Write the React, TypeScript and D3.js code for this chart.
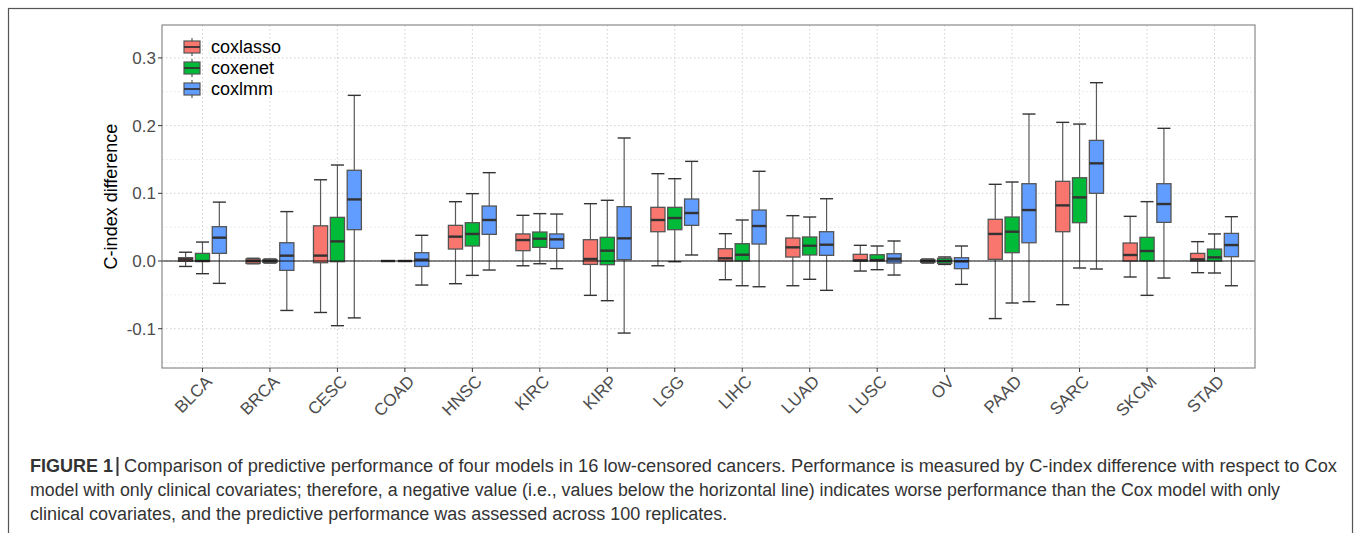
import React from "react";
import * as d3 from "d3";

// cancers on the x axis
const categories = ["BLCA", "BRCA", "CESC", "COAD", "HNSC", "KIRC", "KIRP", "LGG",
  "LIHC", "LUAD", "LUSC", "OV", "PAAD", "SARC", "SKCM", "STAD"];

const models = ["coxlasso", "coxenet", "coxlmm"];
const modelColors = ["#F8766D", "#00BA38", "#619CFF"];

const yTicks = [-0.1, 0.0, 0.1, 0.2, 0.3];
const yMinorTicks = [-0.15, -0.05, 0.05, 0.15, 0.25];

// [lower whisker, q1, median, q3, upper whisker] per cancer
const coxlassoStats = [
  [-0.008, -0.0005, 0.0025, 0.005, 0.013],
  [-0.004, -0.0035, 0, 0.003, 0.004],
  [-0.076, -0.0025, 0.008, 0.052, 0.12],
  [0, 0, 0, 0, 0],
  [-0.0335, 0.0177, 0.036, 0.0527, 0.0876],
  [-0.007, 0.0153, 0.031, 0.04, 0.0675],
  [-0.0507, -0.005, 0.003, 0.0315, 0.0847],
  [-0.007, 0.0433, 0.0606, 0.0793, 0.129],
  [-0.0276, 0, 0.004, 0.0182, 0.0404],
  [-0.0365, 0.0059, 0.0202, 0.034, 0.067],
  [-0.0148, 0, 0.001, 0.0099, 0.0232],
  [-0.003, -0.002, 0, 0.002, 0.003],
  [-0.085, 0.0025, 0.04, 0.0616, 0.1133],
  [-0.0645, 0.0433, 0.0822, 0.1177, 0.2048],
  [-0.0236, 0, 0.0089, 0.0266, 0.066],
  [-0.0172, 0, 0.0025, 0.0113, 0.0286],
];

const coxenetStats = [
  [-0.0187, -0.0005, 0, 0.0113, 0.028],
  [-0.003, -0.002, 0, 0.002, 0.003],
  [-0.0955, -0.001, 0.029, 0.0645, 0.1418],
  [0, 0, 0, 0, 0],
  [-0.0212, 0.0222, 0.04, 0.0566, 0.0995],
  [-0.004, 0.0202, 0.033, 0.0428, 0.07],
  [-0.0586, -0.0054, 0.0153, 0.035, 0.0897],
  [-0.001, 0.0463, 0.0635, 0.0793, 0.1216],
  [-0.0365, 0, 0.0093, 0.0256, 0.0606],
  [-0.027, 0.0089, 0.0226, 0.0355, 0.065],
  [-0.0128, 0, 0.0015, 0.0093, 0.0222],
  [-0.005, -0.0035, 0, 0.004, 0.006],
  [-0.062, 0.0123, 0.0433, 0.065, 0.1167],
  [-0.0103, 0.0566, 0.094, 0.123, 0.2023],
  [-0.0507, 0, 0.0148, 0.035, 0.0877],
  [-0.0177, 0, 0.0054, 0.0177, 0.04],
];

const coxlmmStats = [
  [-0.033, 0.0113, 0.0345, 0.0507, 0.087],
  [-0.073, -0.0138, 0.0079, 0.027, 0.073],
  [-0.084, 0.0463, 0.091, 0.134, 0.2447],
  [-0.0355, -0.008, 0.002, 0.0123, 0.038],
  [-0.0133, 0.0394, 0.0606, 0.0812, 0.1305],
  [-0.0113, 0.0187, 0.032, 0.04, 0.0694],
  [-0.1064, 0.002, 0.0335, 0.0803, 0.1817],
  [0.0089, 0.0527, 0.0709, 0.0916, 0.1472],
  [-0.038, 0.0251, 0.0517, 0.0753, 0.1325],
  [-0.0433, 0.0084, 0.0241, 0.0433, 0.092],
  [-0.0207, -0.003, 0.0034, 0.0108, 0.0296],
  [-0.0345, -0.0113, -0.0005, 0.0049, 0.0222],
  [-0.06, 0.027, 0.0753, 0.1142, 0.2171],
  [-0.0118, 0.1, 0.1443, 0.1782, 0.2634],
  [-0.0251, 0.0571, 0.0842, 0.1142, 0.196],
  [-0.0365, 0.0064, 0.0236, 0.0408, 0.0655],
];

const allStats = [coxlassoStats, coxenetStats, coxlmmStats];

const captionLines = [
  "Comparison of predictive performance of four models in 16 low-censored cancers. Performance is measured by C-index difference with respect to Cox",
  "model with only clinical covariates; therefore, a negative value (i.e., values below the horizontal line) indicates worse performance than the Cox model with only",
  "clinical covariates, and the predictive performance was assessed across 100 replicates.",
];

const W = 1358;
const H = 533;
const panel = { left: 162, right: 1255, top: 25, bottom: 368 };
const font = "Liberation Sans, Arial, Helvetica, sans-serif";

export default function App() {
  const x = d3.scalePoint<string>()
    .domain(categories)
    .range([panel.left, panel.right])
    .padding(0.6);
  const step = x.step();

  const y = d3.scaleLinear()
    .domain([-0.158, 0.3486])
    .range([panel.bottom, panel.top]);

  const boxW = step * 0.21;
  const dodge = step * 0.25;
  const capW = boxW * 0.92;

  return (
    <svg width={W} height={H} style={{ position: "absolute", left: 0, top: 0 }}
      fontFamily={font}>
      <rect x={0} y={0} width={W} height={H} fill="white" />
      {/* outer figure frame */}
      <rect x={8.5} y={8.5} width={1344} height={540} fill="none" stroke="#555" strokeWidth={1.2} />

      {/* grid */}
      {yMinorTicks.map((t) => (
        <line key={"mn" + t} x1={panel.left} x2={panel.right} y1={y(t)} y2={y(t)}
          stroke="#dedede" strokeWidth={0.8} strokeDasharray="1.5,2.5" />
      ))}
      {yTicks.map((t) => (
        <line key={"mj" + t} x1={panel.left} x2={panel.right} y1={y(t)} y2={y(t)}
          stroke="#cfcfcf" strokeWidth={1} strokeDasharray="1.5,2.5" />
      ))}
      {categories.map((c) => (
        <line key={"vg" + c} x1={x(c)} x2={x(c)} y1={panel.top} y2={panel.bottom}
          stroke="#cfcfcf" strokeWidth={1} strokeDasharray="1.5,2.5" />
      ))}

      {/* boxplots */}
      {allStats.map((stats, m) => (
        <g key={models[m]}>
          {stats.map((s, i) => {
            const cx = (x(categories[i]) as number) + (m - 1) * dodge;
            const [lo, q1, med, q3, hi] = s;
            return (
              <g key={i}>
                <line x1={cx} x2={cx} y1={y(hi)} y2={y(q3)} stroke="#595959" strokeWidth={1.2} />
                <line x1={cx} x2={cx} y1={y(q1)} y2={y(lo)} stroke="#595959" strokeWidth={1.2} />
                <line x1={cx - capW / 2} x2={cx + capW / 2} y1={y(hi)} y2={y(hi)} stroke="#333" strokeWidth={1.4} />
                <line x1={cx - capW / 2} x2={cx + capW / 2} y1={y(lo)} y2={y(lo)} stroke="#333" strokeWidth={1.4} />
                <rect x={cx - boxW / 2} y={y(q3)} width={boxW} height={Math.max(0, y(q1) - y(q3))}
                  fill={modelColors[m]} stroke="#555" strokeWidth={1.3} />
                <line x1={cx - boxW / 2} x2={cx + boxW / 2} y1={y(med)} y2={y(med)} stroke="#333" strokeWidth={2.4} />
              </g>
            );
          })}
        </g>
      ))}

      {/* zero reference line */}
      <line x1={panel.left} x2={panel.right} y1={y(0)} y2={y(0)} stroke="#111" strokeWidth={1.1} />

      {/* panel border */}
      <rect x={panel.left} y={panel.top} width={panel.right - panel.left} height={panel.bottom - panel.top}
        fill="none" stroke="#8a8a8a" strokeWidth={1.2} />

      {/* y axis */}
      {yTicks.map((t) => (
        <g key={"yt" + t}>
          <line x1={panel.left - 4} x2={panel.left} y1={y(t)} y2={y(t)} stroke="#333" strokeWidth={1} />
          <text x={panel.left - 6} y={y(t)} dy="0.36em" textAnchor="end" fontSize={17} fill="#4d4d4d">
            {d3.format(".1f")(t).replace("−", "-")}
          </text>
        </g>
      ))}
      <text transform={`translate(117,${(panel.top + panel.bottom) / 2}) rotate(-90)`}
        textAnchor="middle" fontSize={18} fill="#000">C-index difference</text>

      {/* x axis */}
      {categories.map((c) => (
        <g key={"xt" + c}>
          <line x1={x(c)} x2={x(c)} y1={panel.bottom} y2={panel.bottom + 4} stroke="#333" strokeWidth={1} />
          <text transform={`translate(${(x(c) as number) + 2},${panel.bottom + 6}) rotate(-45)`}
            textAnchor="end" dy="0.72em" fontSize={17} fill="#4d4d4d">{c}</text>
        </g>
      ))}

      {/* legend */}
      {models.map((mName, m) => {
        const cy = 47 + m * 21;
        return (
          <g key={"lg" + mName}>
            <line x1={192} x2={192} y1={cy - 9} y2={cy + 9} stroke="#595959" strokeWidth={1.2} />
            <rect x={184} y={cy - 6} width={16} height={12} fill={modelColors[m]} stroke="#555" strokeWidth={1.2} />
            <line x1={184} x2={200} y1={cy} y2={cy} stroke="#333" strokeWidth={1.8} />
            <text x={211} y={cy} dy="0.35em" fontSize={18} fill="#000">{mName}</text>
          </g>
        );
      })}

      {/* caption */}
      <text x={30} y={472} fontSize={18} fill="#333" fontWeight="bold">FIGURE 1</text>
      <line x1={117.5} x2={117.5} y1={457} y2={476} stroke="#333" strokeWidth={2} />
      <text x={124} y={472} fontSize={18} fill="#333" textLength={1213} lengthAdjust="spacingAndGlyphs">
        {captionLines[0]}
      </text>
      <text x={30} y={496} fontSize={18} fill="#333" textLength={1250} lengthAdjust="spacingAndGlyphs">
        {captionLines[1]}
      </text>
      <text x={30} y={520} fontSize={18} fill="#333">{captionLines[2]}</text>
    </svg>
  );
}
